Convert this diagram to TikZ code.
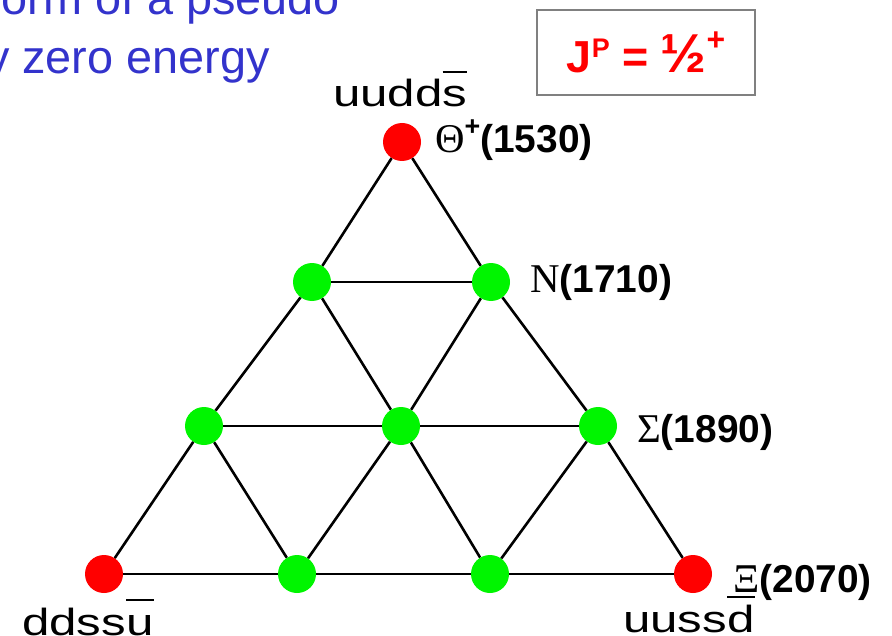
\documentclass[tikz,border=0pt]{standalone}
\usepackage{fontspec}
\setmainfont{Liberation Sans}
\newfontfamily\greekfont{Liberation Serif}
\usetikzlibrary{positioning}
\definecolor{slideblue}{RGB}{51,51,204}
\definecolor{dotred}{RGB}{255,0,0}
\definecolor{dotgreen}{RGB}{0,245,0}
\definecolor{framegray}{RGB}{128,128,128}
\tikzset{
  state/.style={circle,fill=#1,minimum size=38bp,inner sep=0pt},
  state/.default=dotgreen,
  edge/.style={line width=2.6bp,black},
  mass/.style={anchor=base west,inner sep=0pt,font=\fontsize{39}{42}\selectfont\bfseries},
  quarks/.style={anchor=base west,inner sep=0pt,font=\fontsize{38}{40}\selectfont},
  slide/.style={anchor=base east,inner sep=0pt,text=slideblue,font=\fontsize{47}{52}\selectfont},
  spin/.style={draw=framegray,line width=2bp,fill=white,minimum width=218bp,minimum height=85bp,
    inner sep=0pt,text=dotred,font=\fontsize{45}{48}\selectfont\bfseries},
}
% antiquark bar and wide quark content
\newcommand\qbar[1]{\leavevmode\setbox0\hbox{#1}\rlap{\rule[0.9em]{\wd0}{0.055em}}\box0}
\newcommand\qwide[1]{\scalebox{1.3}[1]{#1}}
\newcommand\grk[1]{{\greekfont\mdseries\fontsize{41}{42}\selectfont #1}}
\newcommand\splus{\raisebox{17bp}{\fontsize{27}{27}\selectfont+}}

\begin{document}
\begin{tikzpicture}[x=1bp,y=-1bp]
  \useasboundingbox (0,0) rectangle (892,636);
  % slide text
  \node[slide] (l1) at (340,15) {form of a pseudo};
  \node[slide] (l2) at (270,74) {nearly zero energy};
  \node[spin] (jp) at (646,52.5) {J\raisebox{15bp}{\fontsize{27}{27}\selectfont P} = {\fontsize{55}{55}\selectfont ½}\raisebox{22bp}{\fontsize{32}{32}\selectfont +}};
  % antidecuplet
  \node[state=dotred] (th) at (402,142) {};
  \node[state] (nl) at (312,282) {};
  \node[state] (nr) at (491,282) {};
  \node[state] (sl) at (204,426) {};
  \node[state] (sm) at (401,426) {};
  \node[state] (sr) at (598,426) {};
  \node[state=dotred] (xl) at (104,574) {};
  \node[state] (xa) at (297,574) {};
  \node[state] (xb) at (490,574) {};
  \node[state=dotred] (xr) at (693,574) {};
  \foreach \a/\b in {th/nl,th/nr,nl/nr,nl/sl,nl/sm,nr/sm,nr/sr,sl/sm,sm/sr,
    sl/xl,sl/xa,sm/xa,sm/xb,sr/xb,sr/xr,xl/xa,xa/xb,xb/xr}
    \draw[edge] (\a) -- (\b);
  % labels
  \node[quarks] (qth) at (333,107) {\qwide{uudd\qbar{s}}};
  \node[quarks] (qxl) at (22,635) {\qwide{ddss\qbar{u}}};
  \node[quarks] (qxr) at (623,632) {\qwide{uuss\qbar{d}}};
  \node[mass] (mth) at (435,153) {\grk{Θ}\splus(1530)};
  \node[mass] (mn) at (530,292) {\grk{N}(1710)};
  \node[mass] (ms) at (637,442) {\grk{Σ}(1890)};
  \node[mass] (mx) at (733,592) {\grk{Ξ}(2070)};
\end{tikzpicture}
\end{document}
